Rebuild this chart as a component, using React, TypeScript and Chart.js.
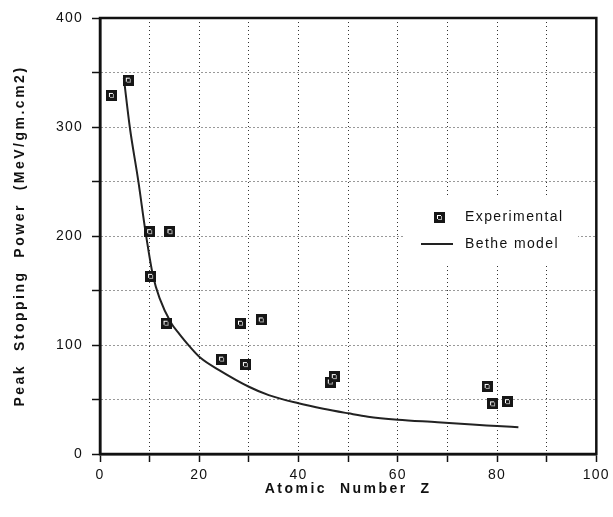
import React, { useEffect, useRef } from 'react';
import { Chart, registerables } from 'chart.js';

Chart.register(...registerables);

// Experimental points
const expZ = [2.3, 5.7, 10.0, 14.1, 10.2, 13.3, 24.5, 28.3, 29.3, 32.5, 46.4, 47.2, 78.0, 79.1, 82.1];
const expPower = [329, 343, 204, 204, 163, 120, 87, 120, 82, 123, 66, 71, 62, 46, 48];

// Bethe model curve
const betheZ = [4.8, 6, 7.7, 9.3, 10.7, 12, 14.3, 16, 18, 20.3, 24, 30, 34, 40, 45, 50, 54, 60, 68, 75, 80, 84.3];
const bethePower = [345, 300, 251, 200, 163, 143, 120.5, 110, 99, 88, 77, 61.7, 54, 46.5, 41.5, 37.3, 34.2, 31.5, 29.2, 27, 25.7, 24.5];

// Axis ticks
const xTickLabels = [0, 20, 40, 60, 80, 100];
const yTickLabels = [0, 100, 200, 300, 400];

const legendLabels = ['Experimental', 'Bethe model'];
const xTitle = 'Atomic  Number  Z';
const yTitle = 'Peak  Stopping  Power  (MeV/gm.cm2)';

function makeMarker(): HTMLCanvasElement {
  const c = document.createElement('canvas');
  c.width = 11;
  c.height = 11;
  const g = c.getContext('2d')!;
  g.fillStyle = '#161616';
  g.fillRect(0, 0, 11, 11);
  g.fillStyle = '#ffffff';
  g.fillRect(3, 3, 4, 1);
  g.fillRect(3, 3, 1, 4);
  g.fillStyle = '#aaaaaa';
  g.fillRect(7, 4, 1, 4);
  g.fillRect(4, 7, 4, 1);
  return c;
}

export default function App() {
  const ref = useRef<HTMLCanvasElement | null>(null);

  useEffect(() => {
    const canvas = ref.current;
    if (!canvas) return;
    const marker = makeMarker();
    const font = '"Liberation Sans", Arial, Helvetica, sans-serif';

    const framePlugin = {
      id: 'frameAndTitles',
      beforeDraw(chart: any) {
        const ctx = chart.ctx;
        ctx.fillStyle = '#ffffff';
        ctx.fillRect(0, 0, chart.width, chart.height);
        (ctx as any).letterSpacing = '1.2px';
      },
      afterDraw(chart: any) {
        const ctx = chart.ctx;
        const a = chart.chartArea;
        ctx.save();
        // frame
        ctx.strokeStyle = '#111';
        ctx.lineWidth = 2.5;
        ctx.setLineDash([]);
        ctx.strokeRect(a.left, a.top, a.right - a.left, a.bottom - a.top);

        // legend
        const lx = a.left + 305;
        const ly = a.top + 179;
        ctx.fillStyle = '#ffffff';
        ctx.fillRect(lx, ly, 173, 66);
        const r1 = a.top + 199;
        const r2 = a.top + 226;
        ctx.drawImage(marker, a.left + 334, r1 - 5);
        ctx.strokeStyle = '#222';
        ctx.lineWidth = 2;
        ctx.beginPath();
        ctx.moveTo(a.left + 321, r2);
        ctx.lineTo(a.left + 353, r2);
        ctx.stroke();
        ctx.fillStyle = '#111';
        (ctx as any).letterSpacing = '1.4px';
        ctx.font = `14px ${font}`;
        ctx.textAlign = 'left';
        ctx.textBaseline = 'middle';
        ctx.fillText(legendLabels[0], a.left + 365, r1);
        ctx.fillText(legendLabels[1], a.left + 365, r2);

        // axis titles
        (ctx as any).letterSpacing = '2.5px';
        ctx.font = `bold 14px ${font}`;
        ctx.textAlign = 'center';
        ctx.fillText(xTitle, (a.left + a.right) / 2, 489);
        ctx.translate(20, (a.top + a.bottom) / 2);
        ctx.rotate(-Math.PI / 2);
        ctx.fillText(yTitle, 0, 0);
        ctx.restore();
        (ctx as any).letterSpacing = '0px';
      },
    };

    const chart = new Chart(canvas, {
      type: 'scatter',
      data: {
        datasets: [
          {
            label: legendLabels[0],
            data: expZ.map((x, i) => ({ x, y: expPower[i] })),
            pointStyle: marker as any,
            pointRadius: 5,
            showLine: false,
          },
          {
            label: legendLabels[1],
            data: betheZ.map((x, i) => ({ x, y: bethePower[i] })),
            showLine: true,
            borderColor: '#222',
            borderWidth: 2,
            pointRadius: 0,
            cubicInterpolationMode: 'monotone',
            fill: false,
          },
        ],
      },
      options: {
        responsive: false,
        animation: false,
        devicePixelRatio: 1,
        layout: { padding: { left: 0, right: 13, top: 18, bottom: 0 } },
        plugins: {
          legend: { display: false },
          tooltip: { enabled: false },
        },
        scales: {
          x: {
            type: 'linear',
            min: 0,
            max: 100,
            afterFit: (s: any) => { s.height = 63; },
            grid: {
              color: '#333',
              lineWidth: 1,
              tickLength: 8,
              tickColor: '#111',
              tickWidth: 1.5,
              tickBorderDash: [],
            },
            border: { color: '#111', width: 2.5, dash: [1, 3] },
            ticks: {
              stepSize: 10,
              padding: 5,
              color: '#111',
              font: { family: font, size: 14 },
              maxRotation: 0,
              autoSkip: false,
              callback: (v: any) => (xTickLabels.includes(Number(v)) ? String(v) : ''),
            },
          },
          y: {
            type: 'linear',
            min: 0,
            max: 400,
            afterFit: (s: any) => { s.width = 100; },
            grid: {
              color: '#333',
              lineWidth: 1,
              tickLength: 8,
              tickColor: '#111',
              tickWidth: 1.5,
              tickBorderDash: [],
            },
            border: { color: '#111', width: 2.5, dash: [1, 3] },
            ticks: {
              stepSize: 50,
              padding: 9,
              color: '#111',
              font: { family: font, size: 14 },
              autoSkip: false,
              callback: (v: any) => (yTickLabels.includes(Number(v)) ? String(v) : ''),
            },
          },
        },
      },
      plugins: [framePlugin],
    });

    return () => chart.destroy();
  }, []);

  return (
    <div style={{ position: 'fixed', left: 0, top: 0, width: 613, height: 517, background: '#fff' }}>
      <canvas ref={ref} width={613} height={517} style={{ display: 'block' }} />
    </div>
  );
}
